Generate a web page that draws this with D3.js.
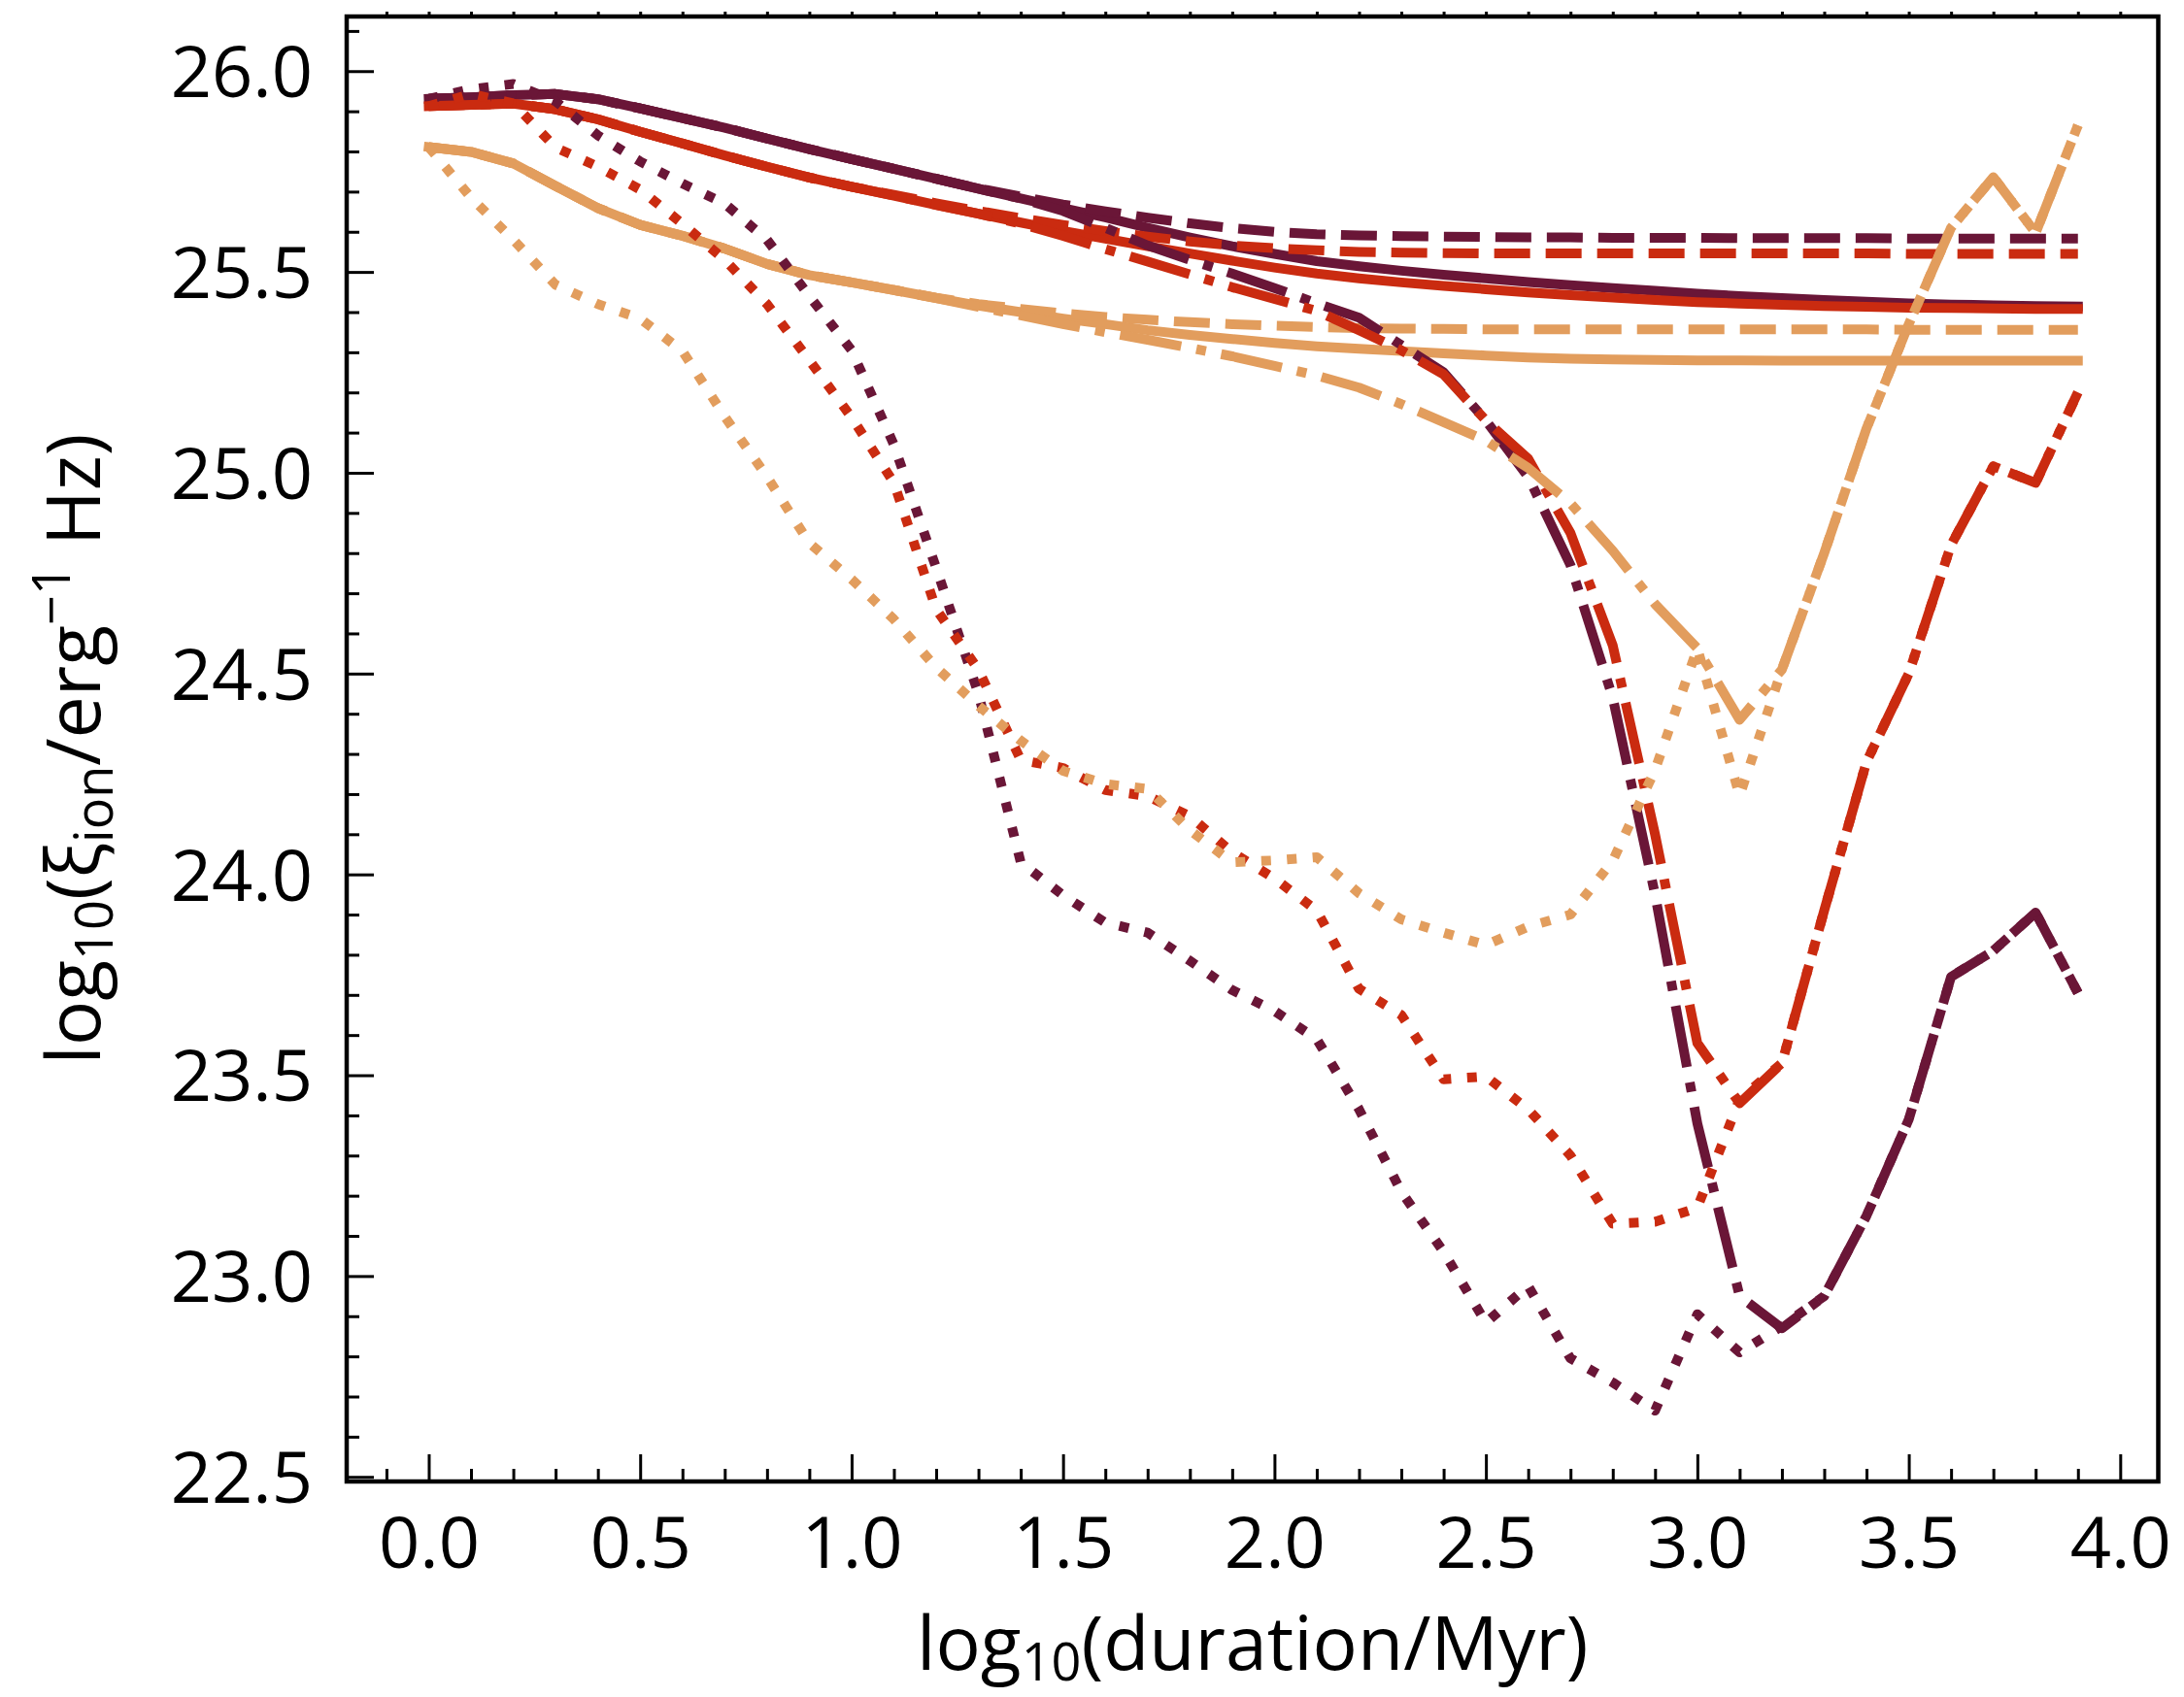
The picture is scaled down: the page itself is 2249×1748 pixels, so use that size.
<!DOCTYPE html>
<html>
<head>
<meta charset="utf-8">
<script src="https://cdn.jsdelivr.net/npm/d3@7"></script>
<style>
  html, body { margin: 0; padding: 0; background: #ffffff; }
  svg { display: block; }
  text { font-family: "Open Sans", "Noto Sans", sans-serif; fill: #000; }
</style>
</head>
<body>
<svg id="chart" width="2249" height="1748"></svg>
<script>
// log10(duration / Myr) sampling of every track
const durations = [0.0,0.1,0.2,0.3,0.4,0.5,0.6,0.7,0.8,0.9,1.0,1.1,1.2,1.3,1.4,1.5,1.6,1.7,1.8,1.9,
                   2.0,2.1,2.2,2.3,2.4,2.5,2.6,2.7,2.8,2.9,3.0,3.1,3.2,3.3,3.4,3.5,3.6,3.7,3.8,3.9];

// log10(xi_ion) tracks, one per colour / line style
const maroonSolid = [25.931,25.935,25.940,25.943,25.930,25.907,25.883,25.859,25.832,25.806,25.781,25.757,25.732,25.707,25.683,25.659,25.636,25.610,25.586,25.564,
                     25.545,25.527,25.514,25.503,25.493,25.484,25.475,25.467,25.460,25.453,25.446,25.440,25.435,25.430,25.426,25.422,25.419,25.417,25.415,25.414];
const redSolid = [25.913,25.916,25.919,25.905,25.880,25.849,25.820,25.790,25.762,25.735,25.712,25.690,25.667,25.645,25.623,25.602,25.583,25.564,25.546,25.528,
                  25.511,25.496,25.484,25.474,25.465,25.457,25.449,25.442,25.436,25.430,25.425,25.421,25.418,25.415,25.413,25.411,25.410,25.409,25.408,25.408];
const orangeSolid = [25.811,25.799,25.770,25.714,25.659,25.617,25.590,25.558,25.520,25.492,25.474,25.455,25.435,25.416,25.400,25.384,25.370,25.355,25.343,25.333,
                     25.323,25.315,25.309,25.303,25.297,25.292,25.287,25.284,25.282,25.281,25.280,25.280,25.279,25.279,25.279,25.279,25.279,25.279,25.279,25.279];

const maroonDashed = [25.931,25.935,25.940,25.943,25.930,25.907,25.883,25.859,25.832,25.806,25.781,25.757,25.732,25.708,25.688,25.668,25.651,25.635,25.621,25.609,
                      25.600,25.594,25.591,25.589,25.588,25.587,25.586,25.586,25.585,25.585,25.585,25.584,25.584,25.584,25.584,25.583,25.583,25.583,25.583,25.583];
const redDashed = [25.913,25.916,25.919,25.905,25.880,25.849,25.820,25.790,25.762,25.735,25.712,25.692,25.671,25.652,25.634,25.617,25.602,25.588,25.576,25.566,
                   25.559,25.554,25.550,25.548,25.547,25.546,25.546,25.546,25.546,25.546,25.546,25.546,25.546,25.546,25.546,25.545,25.545,25.545,25.545,25.545];
const orangeDashed = [25.811,25.799,25.770,25.714,25.659,25.617,25.590,25.558,25.520,25.492,25.474,25.455,25.436,25.420,25.408,25.397,25.388,25.381,25.375,25.370,
                      25.366,25.363,25.360,25.359,25.358,25.357,25.357,25.357,25.357,25.357,25.357,25.357,25.357,25.357,25.357,25.356,25.356,25.356,25.356,25.356];

const maroonDashDot = [25.931,25.935,25.940,25.943,25.930,25.907,25.883,25.859,25.832,25.806,25.781,25.757,25.732,25.707,25.683,25.652,25.610,25.566,25.530,25.496,
                       25.460,25.422,25.386,25.318,25.250,25.130,24.990,24.770,24.440,23.950,23.380,22.950,22.870,22.950,23.150,23.390,23.745,23.810,23.905,23.705];
const redDashDot = [25.913,25.916,25.919,25.905,25.880,25.849,25.820,25.790,25.762,25.735,25.712,25.690,25.667,25.645,25.620,25.590,25.557,25.526,25.494,25.462,
                    25.433,25.403,25.355,25.305,25.245,25.130,25.035,24.850,24.570,24.100,23.580,23.430,23.530,23.910,24.280,24.500,24.820,25.016,24.975,25.200];
const orangeDashDot = [25.811,25.799,25.770,25.714,25.659,25.617,25.590,25.558,25.520,25.492,25.474,25.455,25.435,25.413,25.392,25.370,25.350,25.331,25.311,25.290,
                       25.266,25.242,25.212,25.171,25.126,25.080,25.012,24.924,24.806,24.673,24.563,24.385,24.510,24.800,25.110,25.370,25.610,25.736,25.597,25.865];

const maroonDotted = [25.931,25.955,25.968,25.925,25.840,25.775,25.720,25.670,25.580,25.440,25.305,25.070,24.763,24.450,24.030,23.948,23.880,23.855,23.785,23.712,
                      23.660,23.590,23.415,23.210,23.060,22.884,22.975,22.795,22.735,22.665,22.905,22.810,22.875,22.950,23.150,23.390,23.745,23.810,23.905,23.705];
const redDotted = [25.913,25.943,25.920,25.810,25.762,25.705,25.620,25.530,25.420,25.280,25.138,24.975,24.660,24.510,24.285,24.265,24.210,24.195,24.145,24.055,
                   23.990,23.910,23.715,23.650,23.490,23.497,23.415,23.300,23.130,23.135,23.170,23.440,23.530,23.910,24.280,24.500,24.820,25.016,24.975,25.200];
const orangeDotted = [25.811,25.685,25.580,25.468,25.420,25.384,25.303,25.140,24.990,24.825,24.735,24.635,24.515,24.420,24.333,24.258,24.225,24.213,24.110,24.030,
                      24.035,24.043,23.953,23.888,23.855,23.824,23.870,23.900,24.034,24.260,24.563,24.196,24.510,24.800,25.110,25.370,25.610,25.736,25.597,25.865];

// labelled axis ticks
const xTickValues = [0.0, 0.5, 1.0, 1.5, 2.0, 2.5, 3.0, 3.5, 4.0];
const yTickValues = [22.5, 23.0, 23.5, 24.0, 24.5, 25.0, 25.5, 26.0];

// ---- drawing ----
const colors = { maroon: "#6a1637", red: "#ca2b10", orange: "#e29d5d" };
const LW = 10;
const dashes = {
  solid: null,
  dashed: [3.7 * LW, 1.6 * LW],
  dashdot: [6.4 * LW, 1.6 * LW, 1.0 * LW, 1.6 * LW],
  dotted: [1.0 * LW, 1.65 * LW]
};

// drawing order: style by style, colour by colour
const tracks = [
  { values: maroonSolid,   color: "maroon", style: "solid" },
  { values: redSolid,      color: "red",    style: "solid" },
  { values: orangeSolid,   color: "orange", style: "solid" },
  { values: maroonDashed,  color: "maroon", style: "dashed" },
  { values: redDashed,     color: "red",    style: "dashed" },
  { values: orangeDashed,  color: "orange", style: "dashed" },
  { values: maroonDashDot, color: "maroon", style: "dashdot" },
  { values: redDashDot,    color: "red",    style: "dashdot" },
  { values: orangeDashDot, color: "orange", style: "dashdot" },
  { values: maroonDotted,  color: "maroon", style: "dotted" },
  { values: redDotted,     color: "red",    style: "dotted" },
  { values: orangeDotted,  color: "orange", style: "dotted" }
];

const plot = { left: 357, right: 2222.5, top: 17, bottom: 1526 };

const x = d3.scaleLinear().domain([-0.194, 4.09]).range([plot.left, plot.right]);
const y = d3.scaleLinear().domain([22.4885, 26.136]).range([plot.bottom, plot.top]);

const svg = d3.select("#chart");
svg.append("rect").attr("width", 2249).attr("height", 1748).attr("fill", "#fff");

const line = d3.line()
  .x((d, i) => x(durations[i]))
  .y(d => y(d))
  .curve(d3.curveLinear);

const linesG = svg.append("g").attr("class", "tracks");
tracks.forEach(t => {
  const p = linesG.append("path")
    .datum(t.values)
    .attr("d", line)
    .attr("fill", "none")
    .attr("stroke", colors[t.color])
    .attr("stroke-width", LW)
    .attr("stroke-linejoin", "round");
  if (dashes[t.style]) {
    p.attr("stroke-dasharray", dashes[t.style].join(" "))
     .attr("stroke-linecap", "butt");
  } else {
    p.attr("stroke-linecap", "square");
  }
});

// minor tick positions every 0.1
const xMinor = d3.range(-1, 41).filter(i => i % 5 !== 0).map(i => i / 10);
const yMinor = d3.range(225, 262).filter(i => i % 5 !== 0).map(i => i / 10);
const xAll = d3.range(-1, 41).map(i => i / 10);

const fmt = d3.format(".1f");
const tickFont = 74;

function styleAxis(g) {
  g.select(".domain").remove();
  g.selectAll(".tick line").attr("stroke", "#000").attr("stroke-width", 3);
}

// bottom axis
svg.append("g")
  .attr("transform", `translate(0,${plot.bottom})`)
  .call(d3.axisBottom(x).tickValues(xMinor).tickSize(-13).tickFormat(""))
  .call(styleAxis);
const xAxisG = svg.append("g")
  .attr("transform", `translate(0,${plot.bottom})`)
  .call(d3.axisBottom(x).tickValues(xTickValues).tickSize(-28).tickFormat(fmt))
  .call(styleAxis);
xAxisG.selectAll(".tick text")
  .attr("y", 89).attr("dy", 0)
  .attr("font-size", tickFont)
  .attr("font-family", "'Open Sans', 'Noto Sans', sans-serif")
  .attr("fill", "#000");

// small marks along the top edge
svg.append("g")
  .attr("transform", `translate(0,${plot.top - 2})`)
  .call(d3.axisTop(x).tickValues(xAll).tickSize(3).tickFormat(""))
  .call(styleAxis);

// left axis
svg.append("g")
  .attr("transform", `translate(${plot.left},0)`)
  .call(d3.axisLeft(y).tickValues(yMinor).tickSize(-13).tickFormat(""))
  .call(styleAxis);
const yAxisG = svg.append("g")
  .attr("transform", `translate(${plot.left},0)`)
  .call(d3.axisLeft(y).tickValues(yTickValues).tickSize(-28).tickFormat(fmt))
  .call(styleAxis);
yAxisG.selectAll(".tick text")
  .attr("x", -35).attr("dy", "0.357em")
  .attr("font-size", tickFont)
  .attr("font-family", "'Open Sans', 'Noto Sans', sans-serif")
  .attr("fill", "#000");

// frame
svg.append("rect")
  .attr("x", plot.left).attr("y", plot.top)
  .attr("width", plot.right - plot.left).attr("height", plot.bottom - plot.top)
  .attr("fill", "none").attr("stroke", "#000").attr("stroke-width", 4.5);

// axis titles
const labelFont = 77;
const subFont = 54;

const xl = svg.append("text")
  .attr("x", (plot.left + plot.right) / 2)
  .attr("y", 1720)
  .attr("text-anchor", "middle")
  .attr("font-size", labelFont);
xl.append("tspan").text("log");
xl.append("tspan").attr("font-size", subFont).attr("dy", 11).text("10");
xl.append("tspan").attr("dy", -11).text("(duration/Myr)");

const yl = svg.append("text")
  .attr("transform", `translate(103,${(plot.top + plot.bottom) / 2}) rotate(-90)`)
  .attr("text-anchor", "middle")
  .attr("font-size", labelFont);
yl.append("tspan").text("log");
yl.append("tspan").attr("font-size", subFont).attr("dy", 13).text("10");
yl.append("tspan").attr("dy", -13).text("(ξ");
yl.append("tspan").attr("font-size", subFont).attr("dy", 13).text("ion");
yl.append("tspan").attr("dy", -13).text("/erg");
yl.append("tspan").attr("font-size", subFont).attr("dy", -31).text("−1");
yl.append("tspan").attr("dy", 31).text(" Hz)");
</script>
</body>
</html>
